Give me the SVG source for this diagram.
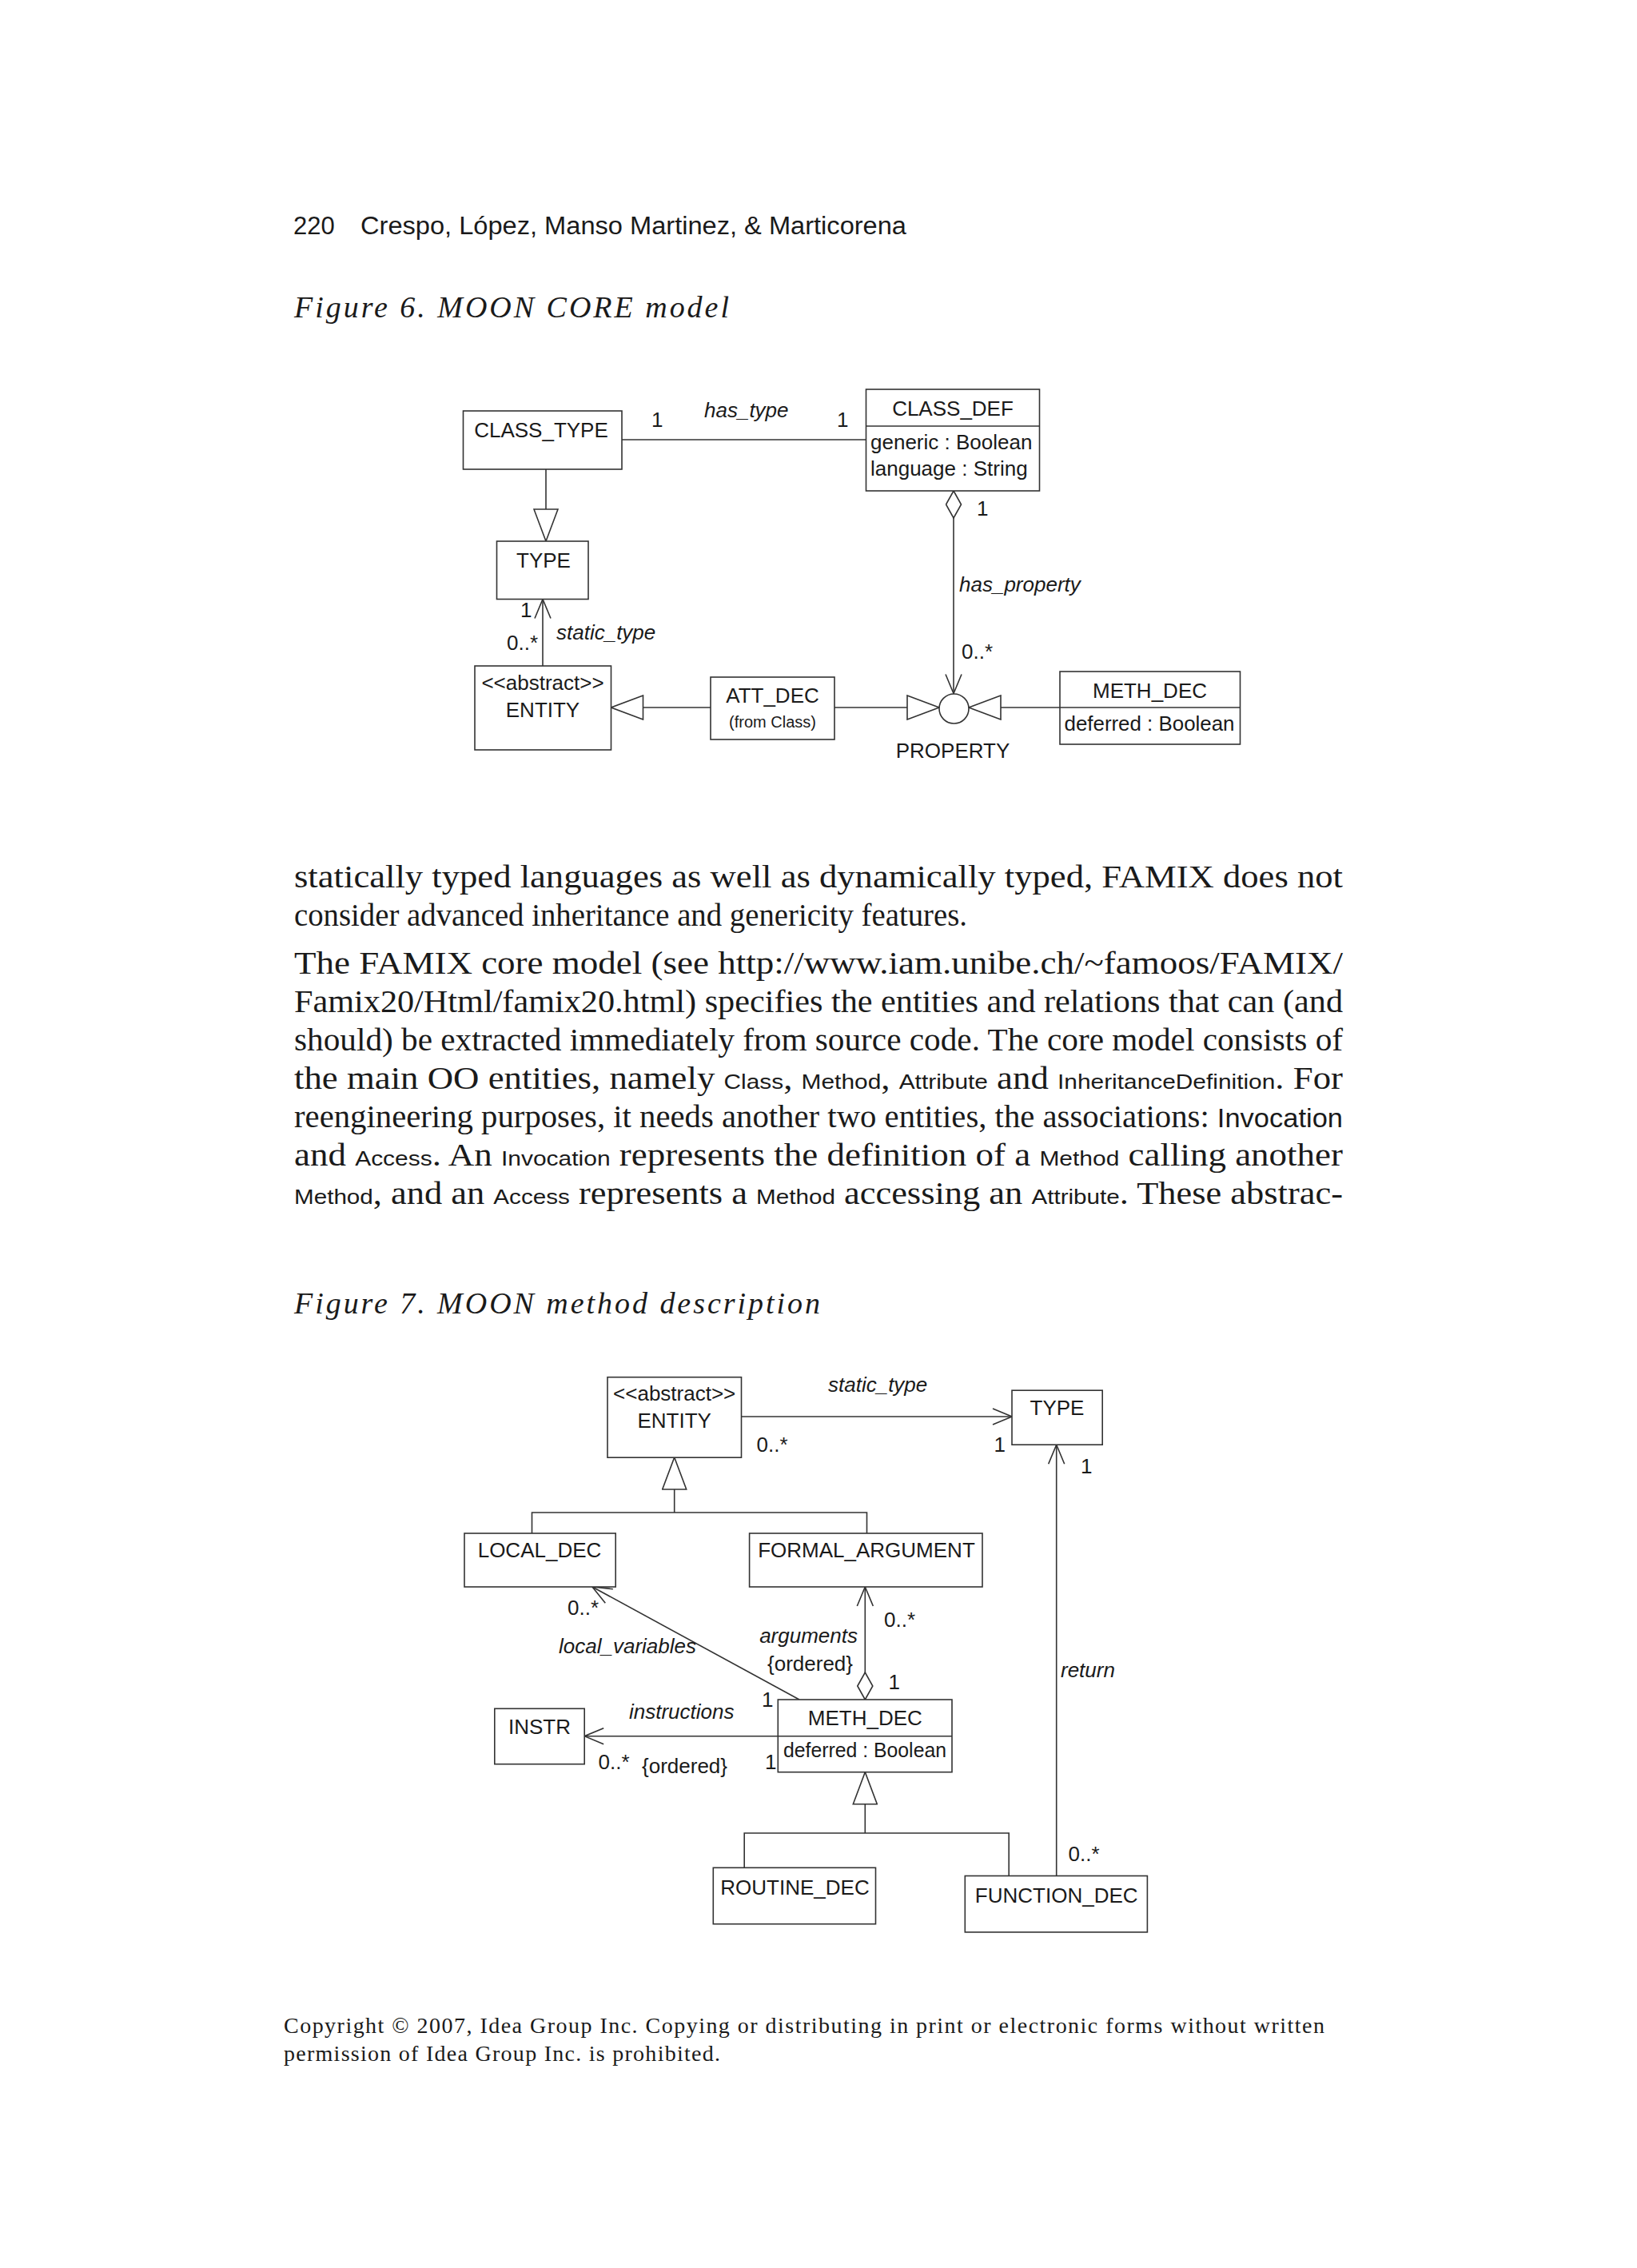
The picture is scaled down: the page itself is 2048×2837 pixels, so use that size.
<svg xmlns="http://www.w3.org/2000/svg" width="2048" height="2837" viewBox="0 0 2048 2837">
<style>
.bg{fill:#fff}
.box{fill:#fff;stroke:#333;stroke-width:1.6}
.ln{fill:none;stroke:#333;stroke-width:1.6}
.lbl{font-family:"Liberation Sans",Arial,sans-serif;font-size:26px;fill:#1a1a1a}
.mid{text-anchor:middle}
.end{text-anchor:end}
.it{font-style:italic}
.sm{font-size:20px}
.hdr{font-family:"Liberation Sans",Arial,sans-serif;font-size:31px;fill:#1a1a1a}
.cap{font-family:"Liberation Serif","Times New Roman",serif;font-style:italic;font-size:38px;fill:#1a1a1a}
.body{font-family:"Liberation Serif","Times New Roman",serif;font-size:39px;fill:#1a1a1a}
.sf{font-family:"Liberation Sans",Arial,sans-serif;font-size:26px}
.sfb{font-family:"Liberation Sans",Arial,sans-serif;font-size:33px}
.copy{font-family:"Liberation Serif","Times New Roman",serif;font-size:28px;fill:#1a1a1a}
</style>
<defs>
<marker id="open" viewBox="-1 -1 26 22" refX="24" refY="10" markerWidth="26" markerHeight="22" markerUnits="userSpaceOnUse" orient="auto"><path d="M0,0 L24,10 L0,20" fill="none" stroke="#333" stroke-width="1.6"/></marker>
<marker id="gen" viewBox="-1 -1 42 32" refX="40" refY="15" markerWidth="42" markerHeight="32" markerUnits="userSpaceOnUse" orient="auto"><path d="M0,0 L40,15 L0,30 Z" fill="#fff" stroke="#333" stroke-width="1.6"/></marker>
<marker id="diamond" viewBox="-1 -1 36 21" refX="0" refY="9.5" markerWidth="36" markerHeight="21" markerUnits="userSpaceOnUse" orient="auto"><path d="M0,9.5 L17,0 L34,9.5 L17,19 Z" fill="#fff" stroke="#333" stroke-width="1.6"/></marker>
</defs>
<rect class="bg" x="0" y="0" width="2048" height="2837"/>

<!-- page header -->
<text class="hdr" x="367" y="293">220</text>
<text class="hdr" x="451" y="293" textLength="683" lengthAdjust="spacingAndGlyphs">Crespo, López, Manso Martinez, &amp; Marticorena</text>
<text class="cap" x="368" y="397" textLength="544" lengthAdjust="spacing">Figure 6. MOON CORE model</text>

<!-- ===== Figure 6 ===== -->
<g id="fig6-connectors">
  <line class="ln" x1="778" y1="550" x2="1083" y2="550"/>
  <line class="ln" x1="683" y1="587" x2="683" y2="677" marker-end="url(#gen)"/>
  <line class="ln" x1="679" y1="833" x2="679" y2="749.5" marker-end="url(#open)"/>
  <line class="ln" x1="889" y1="885" x2="764.5" y2="885" marker-end="url(#gen)"/>
  <line class="ln" x1="1044" y1="885" x2="1175" y2="885" marker-end="url(#gen)"/>
  <line class="ln" x1="1326" y1="885" x2="1212" y2="885" marker-end="url(#gen)"/>
  <line class="ln" x1="1193" y1="614" x2="1193" y2="867.5" marker-start="url(#diamond)" marker-end="url(#open)"/>
  <text class="lbl" x="815" y="534">1</text>
  <text class="lbl it" x="881" y="522">has_type</text>
  <text class="lbl" x="1047" y="534">1</text>
  <text class="lbl" x="651" y="772">1</text>
  <text class="lbl" x="634" y="813">0..*</text>
  <text class="lbl it" x="696" y="800">static_type</text>
  <text class="lbl" x="1222" y="645">1</text>
  <text class="lbl it" x="1200" y="740">has_property</text>
  <text class="lbl" x="1203" y="824">0..*</text>
</g>
<g id="CLASS_TYPE">
  <rect class="box" x="579.5" y="514" width="198.5" height="73"/>
  <text class="lbl mid" x="677" y="547">CLASS_TYPE</text>
</g>
<g id="CLASS_DEF">
  <rect class="box" x="1083.5" y="487" width="217" height="127"/>
  <line class="ln" x1="1083.5" y1="533" x2="1300.5" y2="533"/>
  <text class="lbl mid" x="1192" y="520">CLASS_DEF</text>
  <text class="lbl" x="1089" y="562">generic : Boolean</text>
  <text class="lbl" x="1089" y="595">language : String</text>
</g>
<g id="TYPE6">
  <rect class="box" x="621.5" y="677" width="114.5" height="72.5"/>
  <text class="lbl mid" x="680" y="710">TYPE</text>
</g>
<g id="ENTITY6">
  <rect class="box" x="594" y="833" width="170.5" height="105"/>
  <text class="lbl mid" x="679" y="863">&lt;&lt;abstract&gt;&gt;</text>
  <text class="lbl mid" x="679" y="897">ENTITY</text>
</g>
<g id="ATT_DEC">
  <rect class="box" x="889" y="847" width="155" height="78"/>
  <text class="lbl mid" x="966.5" y="879">ATT_DEC</text>
  <text class="lbl sm mid" x="966.5" y="910">(from Class)</text>
</g>
<g id="PROPERTY">
  <circle class="box" cx="1193.5" cy="886.5" r="18.5"/>
  <text class="lbl mid" x="1192" y="948">PROPERTY</text>
</g>
<g id="METH_DEC6">
  <rect class="box" x="1326" y="840" width="225.5" height="91"/>
  <line class="ln" x1="1326" y1="885" x2="1551.5" y2="885"/>
  <text class="lbl mid" x="1438.5" y="873">METH_DEC</text>
  <text class="lbl" x="1331.5" y="914" textLength="213" lengthAdjust="spacingAndGlyphs">deferred : Boolean</text>
</g>

<!-- body text -->
<g id="body">
<text class="body" x="368" y="1110" textLength="1312" lengthAdjust="spacingAndGlyphs">statically typed languages as well as dynamically typed, FAMIX does not</text>
<text class="body" x="368" y="1158" textLength="842" lengthAdjust="spacingAndGlyphs">consider advanced inheritance and genericity features.</text>
<text class="body" x="368" y="1218" textLength="1312" lengthAdjust="spacingAndGlyphs">The FAMIX core model (see http://www.iam.unibe.ch/~famoos/FAMIX/</text>
<text class="body" x="368" y="1266" textLength="1312" lengthAdjust="spacingAndGlyphs">Famix20/Html/famix20.html) specifies the entities and relations that can (and</text>
<text class="body" x="368" y="1314" textLength="1312" lengthAdjust="spacingAndGlyphs">should) be extracted immediately from source code. The core model consists of</text>
<text class="body" x="368" y="1362" textLength="1312" lengthAdjust="spacingAndGlyphs">the main OO entities, namely <tspan class="sf">Class</tspan>, <tspan class="sf">Method</tspan>, <tspan class="sf">Attribute</tspan> and <tspan class="sf">InheritanceDefinition</tspan>. For</text>
<text class="body" x="368" y="1410" textLength="1312" lengthAdjust="spacingAndGlyphs">reengineering purposes, it needs another two entities, the associations: <tspan class="sfb">Invocation</tspan></text>
<text class="body" x="368" y="1458" textLength="1312" lengthAdjust="spacingAndGlyphs">and <tspan class="sf">Access</tspan>. An <tspan class="sf">Invocation</tspan> represents the definition of a <tspan class="sf">Method</tspan> calling another</text>
<text class="body" x="368" y="1506" textLength="1312" lengthAdjust="spacingAndGlyphs"><tspan class="sf">Method</tspan>, and an <tspan class="sf">Access</tspan> represents a <tspan class="sf">Method</tspan> accessing an <tspan class="sf">Attribute</tspan>. These abstrac-</text>
</g>

<text class="cap" x="368" y="1643" textLength="658" lengthAdjust="spacing">Figure 7. MOON method description</text>

<!-- ===== Figure 7 ===== -->
<g id="fig7-connectors">
  <line class="ln" x1="927.5" y1="1772" x2="1266" y2="1772" marker-end="url(#open)"/>
  <polyline class="ln" points="665.5,1918 665.5,1892 1084.5,1892 1084.5,1918"/>
  <line class="ln" x1="843.7" y1="1892" x2="843.7" y2="1823" marker-end="url(#gen)"/>
  <line class="ln" x1="1000" y1="2126" x2="741" y2="1985" marker-end="url(#open)"/>
  <line class="ln" x1="1082.3" y1="2126" x2="1082.3" y2="1985" marker-start="url(#diamond)" marker-end="url(#open)"/>
  <line class="ln" x1="973.3" y1="2171.7" x2="731.2" y2="2171.7" marker-end="url(#open)"/>
  <polyline class="ln" points="931.2,2336.3 931.2,2293 1262.2,2293 1262.2,2346.5"/>
  <line class="ln" x1="1082.3" y1="2293" x2="1082.3" y2="2216.7" marker-end="url(#gen)"/>
  <line class="ln" x1="1321.7" y1="2346.5" x2="1321.7" y2="1807.2" marker-end="url(#open)"/>
  <text class="lbl it" x="1036" y="1741">static_type</text>
  <text class="lbl" x="946.5" y="1816">0..*</text>
  <text class="lbl" x="1243.5" y="1816">1</text>
  <text class="lbl" x="1352" y="1843">1</text>
  <text class="lbl" x="710" y="2020">0..*</text>
  <text class="lbl it" x="699" y="2068">local_variables</text>
  <text class="lbl" x="1106" y="2035">0..*</text>
  <text class="lbl it end" x="1073" y="2055">arguments</text>
  <text class="lbl end" x="1067" y="2090">{ordered}</text>
  <text class="lbl" x="1111.5" y="2113">1</text>
  <text class="lbl" x="953" y="2135">1</text>
  <text class="lbl it" x="787" y="2150">instructions</text>
  <text class="lbl" x="748.5" y="2213">0..*</text>
  <text class="lbl" x="803" y="2218">{ordered}</text>
  <text class="lbl" x="957" y="2213">1</text>
  <text class="lbl it" x="1327" y="2097.5">return</text>
  <text class="lbl" x="1336.5" y="2328">0..*</text>
</g>
<g id="ENTITY7">
  <rect class="box" x="760" y="1722.7" width="167.5" height="100.5"/>
  <text class="lbl mid" x="843.7" y="1752">&lt;&lt;abstract&gt;&gt;</text>
  <text class="lbl mid" x="843.7" y="1786">ENTITY</text>
</g>
<g id="TYPE7">
  <rect class="box" x="1266" y="1739.2" width="113.2" height="68"/>
  <text class="lbl mid" x="1322.5" y="1770">TYPE</text>
</g>
<g id="LOCAL_DEC">
  <rect class="box" x="581" y="1918" width="189.2" height="67"/>
  <text class="lbl mid" x="675" y="1948">LOCAL_DEC</text>
</g>
<g id="FORMAL_ARGUMENT">
  <rect class="box" x="937.6" y="1918" width="291.4" height="67"/>
  <text class="lbl mid" x="1084" y="1948">FORMAL_ARGUMENT</text>
</g>
<g id="METH_DEC7">
  <rect class="box" x="973.3" y="2126" width="217.7" height="90.7"/>
  <line class="ln" x1="973.3" y1="2171.7" x2="1191" y2="2171.7"/>
  <text class="lbl mid" x="1082.3" y="2158.3">METH_DEC</text>
  <text class="lbl" x="980" y="2198.3" textLength="204" lengthAdjust="spacingAndGlyphs">deferred : Boolean</text>
</g>
<g id="INSTR">
  <rect class="box" x="618.8" y="2137.3" width="112.4" height="69.4"/>
  <text class="lbl mid" x="675" y="2169.3">INSTR</text>
</g>
<g id="ROUTINE_DEC">
  <rect class="box" x="892.3" y="2336.3" width="203.2" height="70.4"/>
  <text class="lbl mid" x="994.5" y="2370.3">ROUTINE_DEC</text>
</g>
<g id="FUNCTION_DEC">
  <rect class="box" x="1207.3" y="2346.5" width="228.1" height="70.4"/>
  <text class="lbl mid" x="1321.7" y="2380">FUNCTION_DEC</text>
</g>

<!-- footer -->
<text class="copy" x="355" y="2543" textLength="1302" lengthAdjust="spacing">Copyright © 2007, Idea Group Inc. Copying or distributing in print or electronic forms without written</text>
<text class="copy" x="355" y="2578" textLength="546" lengthAdjust="spacing">permission of Idea Group Inc. is prohibited.</text>
</svg>
